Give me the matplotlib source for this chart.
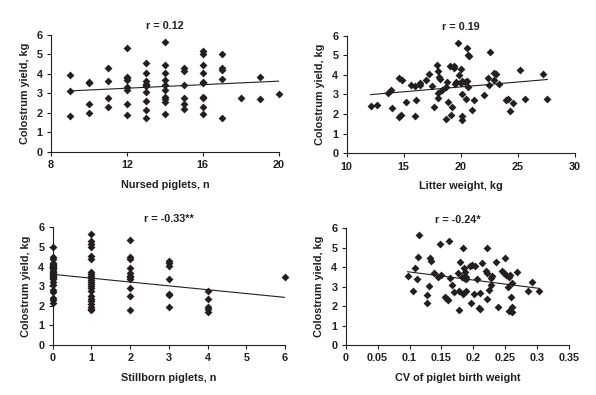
import numpy as np
import matplotlib
matplotlib.use("Agg")
import matplotlib.pyplot as plt

plt.rcParams['font.family'] = ['Liberation Sans', 'DejaVu Sans']
plt.rcParams['font.weight'] = 'bold'
plt.rcParams['font.size'] = 7.8

INK = '#231f20'

# panel A: nursed piglets
nursed_x = [9, 9, 9,
            10, 10, 10, 10,
            11, 11, 11, 11,
            12, 12, 12, 12, 12, 12, 12, 12,
            13, 13, 13, 13, 13, 13, 13, 13, 13, 13,
            14, 14, 14, 14, 14, 14, 14, 14, 14, 14,
            15, 15, 15, 15, 15, 15,
            16, 16, 16, 16, 16, 16, 16, 16, 16, 16,
            17, 17, 17, 17, 17,
            18, 19, 19, 20]
nursed_y = [3.93, 3.11, 1.83,
            3.59, 3.50, 2.43, 2.00,
            4.29, 3.62, 2.74, 2.31,
            5.33, 3.85, 3.76, 3.68, 3.33, 3.16, 2.46, 1.88,
            4.53, 4.02, 3.64, 3.45, 3.37, 3.08, 2.58, 2.15, 1.74, 3.40,
            5.61, 4.44, 4.05, 3.68, 3.42, 3.16, 2.82, 2.68, 2.56, 1.93,
            4.29, 4.12, 3.44, 2.74, 2.43, 2.19,
            5.16, 4.99, 4.44, 4.05, 3.59, 3.50, 2.82, 2.74, 2.31, 1.93,
            4.99, 4.27, 4.19, 3.73, 1.71,
            2.74, 3.81, 2.68, 2.97]
nursed_fit_x = [9, 20]
nursed_fit_y = [3.12, 3.62]

# panel B: litter weight
litter_x = [12.1, 12.66, 13.62, 13.91, 13.94, 14.58, 14.82, 14.55, 14.79, 15.17,
            15.64, 16.01, 16.04, 15.96, 16.39, 16.45, 16.95, 17.24, 17.50, 17.65,
            17.91, 17.97, 18.06, 18.20, 17.97, 18.0, 18.32, 18.70, 18.79, 18.73,
            18.91, 19.03, 19.11, 19.23, 19.40, 19.43, 19.49, 19.61, 19.78, 19.81,
            19.99, 20.01, 20.10, 20.13, 20.10, 20.13, 20.34, 20.42, 20.51, 20.57,
            20.60, 20.72, 20.66, 20.98, 21.15, 22.06, 22.41, 22.50, 22.58, 22.91,
            22.93, 23.05, 23.34, 23.96, 24.13, 24.28, 24.57, 25.18, 25.59, 27.20,
            27.58]
litter_y = [2.43, 2.48, 3.09, 3.21, 2.29, 3.82, 3.72, 1.84, 1.95, 2.62,
            3.47, 3.43, 2.74, 1.90, 3.50, 3.60, 3.72, 4.06, 3.43, 2.36,
            4.50, 4.20, 3.91, 3.79, 3.08, 2.84, 3.23, 3.40, 3.65, 1.73,
            2.60, 4.47, 1.95, 2.38, 4.45, 4.35, 3.52, 3.62, 5.61, 3.99,
            4.27, 3.59, 3.67, 3.01, 1.92, 1.70, 3.65, 2.75, 3.69, 5.34,
            5.01, 4.96, 3.37, 2.18, 2.72, 2.96, 3.82, 3.47, 5.17, 3.74,
            4.11, 4.05, 3.52, 2.69, 2.75, 2.16, 2.55, 4.23, 2.75, 4.03,
            2.75]
litter_fit_x = [12.1, 27.58]
litter_fit_y = [2.99, 3.76]

# panel C: stillborn piglets
still_x = [0] * 26 + [1] * 23 + [2] * 11 + [3] * 7 + [4] * 5 + [6]
still_y = [5.00, 4.49, 4.36, 4.20, 4.08, 3.98, 3.87, 3.77, 3.67, 3.57,
           3.46, 3.34, 3.22, 3.05, 2.80, 2.69, 2.37, 2.28, 2.15, 4.02,
           3.92, 3.72, 3.61, 3.51, 3.41, 4.12,
           5.66, 5.28, 5.15, 4.98, 4.54, 4.39, 3.74, 3.62, 3.52, 3.40,
           3.29, 3.19, 3.09, 2.98, 2.88, 2.74, 2.49, 2.33, 2.23, 2.06,
           1.94, 1.84, 1.77,
           5.37, 4.51, 4.36, 3.91, 3.65, 3.53, 3.45, 3.34, 2.88, 2.50, 1.75,
           4.30, 4.16, 4.02, 3.37, 2.59, 2.52, 1.93,
           2.76, 2.32, 1.94, 1.81, 1.67,
           3.48]
still_fit_x = [0, 6]
still_fit_y = [3.60, 2.42]

# panel D: CV of birth weight
cv_x = [0.097, 0.106, 0.108, 0.111, 0.113, 0.115, 0.127, 0.127, 0.131, 0.132,
        0.133, 0.139, 0.145, 0.148, 0.150, 0.156, 0.158, 0.161, 0.162, 0.164,
        0.166, 0.170, 0.176, 0.177, 0.178, 0.179, 0.182, 0.183, 0.184, 0.185,
        0.186, 0.187, 0.188, 0.189, 0.189, 0.194, 0.197, 0.198, 0.201, 0.202,
        0.206, 0.209, 0.210, 0.211, 0.213, 0.220, 0.221, 0.221, 0.222, 0.225,
        0.227, 0.228, 0.229, 0.235, 0.239, 0.245, 0.248, 0.250, 0.251, 0.254,
        0.255, 0.256, 0.258, 0.259, 0.260, 0.260, 0.261, 0.268, 0.285, 0.291,
        0.302]
cv_y = [3.56, 2.77, 3.95, 3.37, 4.51, 5.62, 2.56, 2.17, 3.03, 4.44,
        4.29, 3.71, 3.50, 5.20, 3.59, 2.46, 2.38, 2.31, 5.35, 3.42,
        3.08, 2.72, 3.68, 1.79, 2.75, 4.24, 3.47, 4.97, 2.60, 3.42,
        3.93, 3.76, 3.50, 3.37, 2.77, 4.07, 2.17, 4.09, 2.60, 4.05,
        3.37, 1.91, 1.86, 2.68, 4.19, 3.79, 3.71, 2.38, 4.97, 2.80,
        3.45, 3.06, 3.54, 4.27, 1.97, 3.79, 3.68, 4.48, 3.57, 2.96,
        1.74, 3.47, 3.59, 2.44, 3.18, 1.93, 1.71, 3.73, 2.77, 3.23,
        2.75]
cv_fit_x = [0.097, 0.302]
cv_fit_y = [3.76, 2.91]

panels = [
    dict(x=nursed_x, y=nursed_y, fx=nursed_fit_x, fy=nursed_fit_y, title='r = 0.12',
         xlabel='Nursed piglets, n', xlim=(8, 20), xticks=[8, 12, 16, 20],
         rect=[0.0856, 0.616, 0.382, 0.296]),
    dict(x=litter_x, y=litter_y, fx=litter_fit_x, fy=litter_fit_y, title='r = 0.19',
         xlabel='Litter weight, kg', xlim=(10, 30), xticks=[10, 15, 20, 25, 30],
         rect=[0.5817, 0.612, 0.383, 0.298]),
    dict(x=still_x, y=still_y, fx=still_fit_x, fy=still_fit_y, title='r = -0.33**',
         xlabel='Stillborn piglets, n', xlim=(0, 6), xticks=[0, 1, 2, 3, 4, 5, 6],
         rect=[0.0884, 0.1273, 0.390, 0.297]),
    dict(x=cv_x, y=cv_y, fx=cv_fit_x, fy=cv_fit_y, title='r = -0.24*',
         xlabel='CV of piglet birth weight', xlim=(0, 0.35),
         xticks=[0, 0.05, 0.1, 0.15, 0.2, 0.25, 0.3, 0.35],
         rect=[0.580, 0.1266, 0.375, 0.296]),
]

fig = plt.figure(figsize=(5.96, 3.95), dpi=100)

for p in panels:
    ax = fig.add_axes(p['rect'])
    ax.scatter(p['x'], p['y'], marker='D', s=16, color=INK, linewidths=0,
               clip_on=False, zorder=3)
    ax.plot(p['fx'], p['fy'], color=INK, lw=0.8, zorder=2)
    ax.set_xlim(*p['xlim'])
    ax.set_ylim(0, 6)
    ax.set_xticks(p['xticks'])
    ax.set_xticklabels([f'{t:g}' for t in p['xticks']])
    ax.set_yticks(range(7))
    ax.spines['top'].set_visible(False)
    ax.spines['right'].set_visible(False)
    for s in ('left', 'bottom'):
        ax.spines[s].set_color(INK)
        ax.spines[s].set_linewidth(0.8)
    ax.tick_params(colors=INK, labelcolor=INK, length=3, width=0.8, pad=3)
    ax.set_title(p['title'], fontsize=7.8, fontweight='bold', color=INK, pad=4)
    ax.set_xlabel(p['xlabel'], fontweight='bold', color=INK, labelpad=7)
    ax.set_ylabel('Colostrum yield, kg', fontweight='bold', color=INK, labelpad=5)

fig.savefig('out.png', dpi=100)
